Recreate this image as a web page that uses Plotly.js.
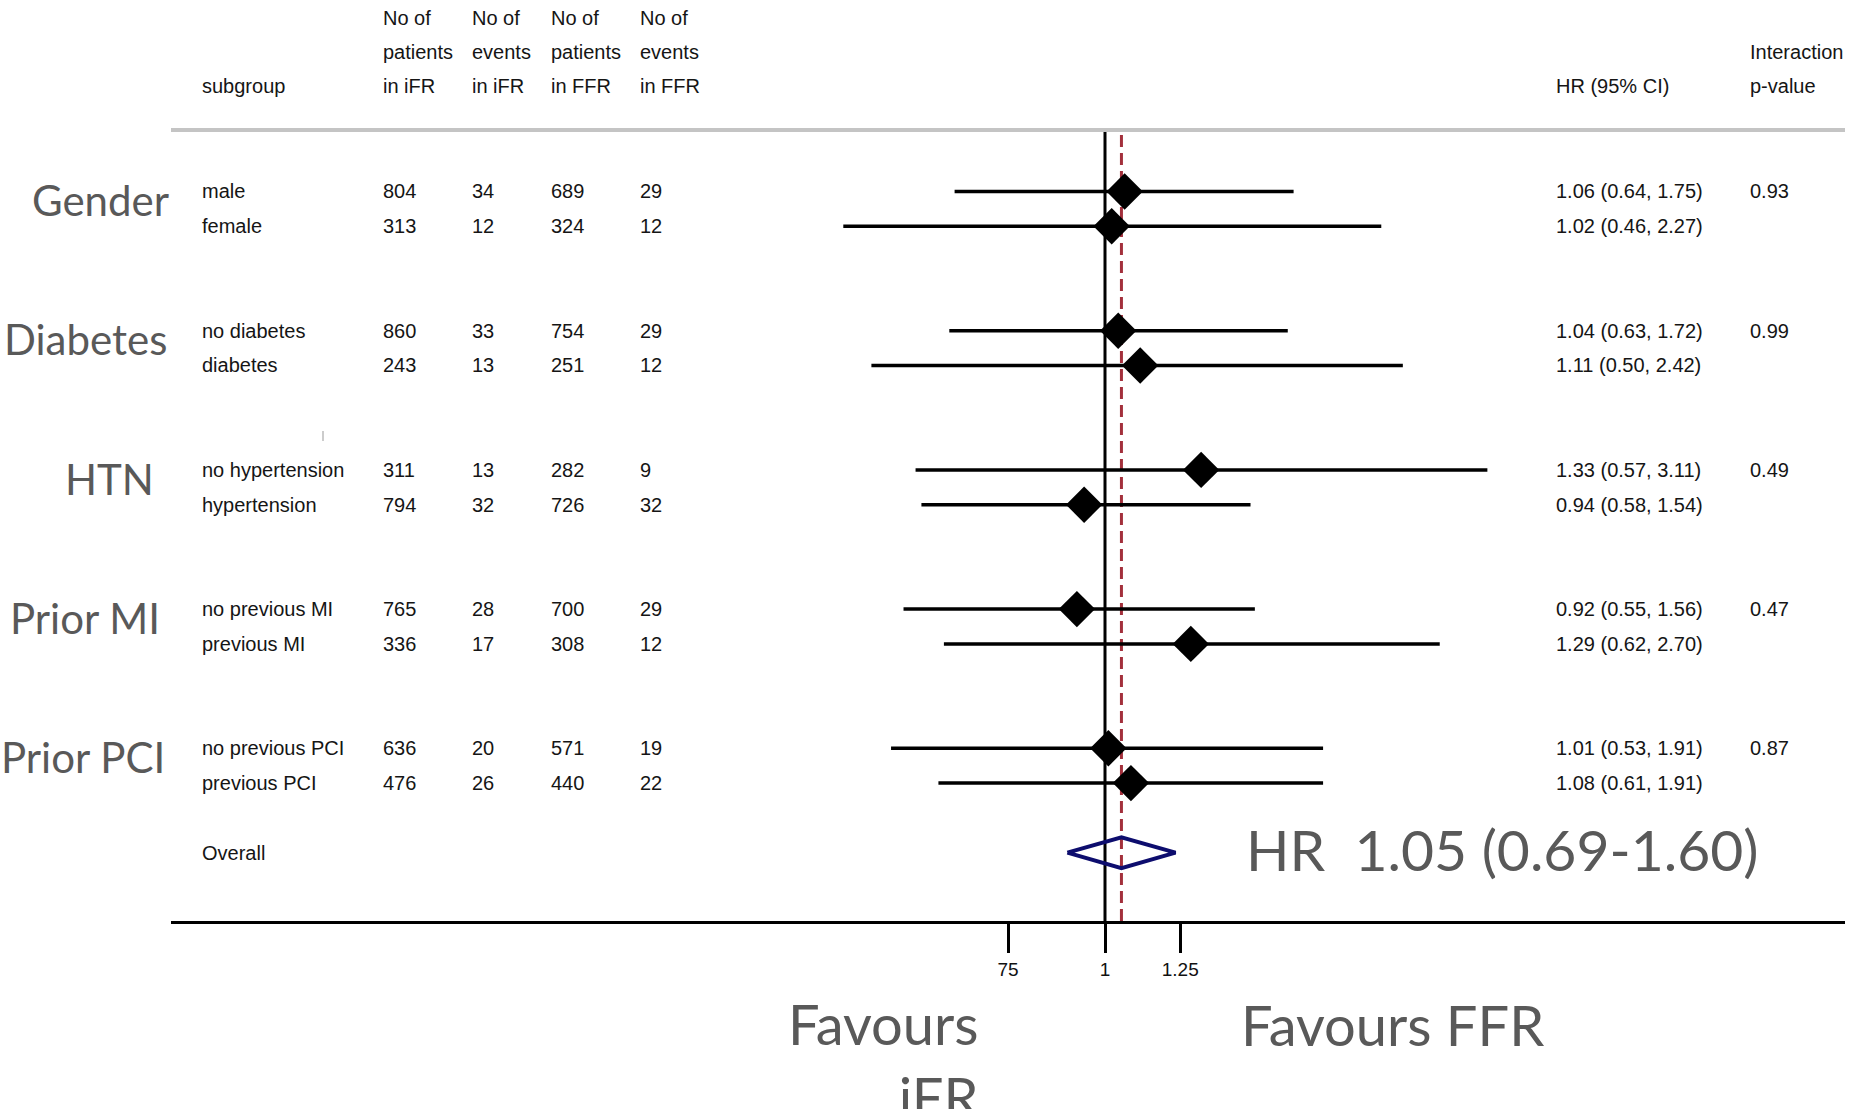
<!DOCTYPE html>
<html>
<head>
<meta charset="utf-8">
<script src="https://cdn.plot.ly/plotly-3.0.1.min.js"></script>
<style>html,body{margin:0;padding:0;background:#fff;}#chart{width:1854px;height:1109px;}</style>
</head>
<body>
<div id="chart"></div>
<script>
// ---------------- DATA ----------------
const groups = ['Gender', 'Diabetes', 'HTN', 'Prior MI', 'Prior PCI'];
const pInteraction = ['0.93', '0.99', '0.49', '0.47', '0.87'];
const subgroups = ['male', 'female', 'no diabetes', 'diabetes', 'no hypertension', 'hypertension',
                   'no previous MI', 'previous MI', 'no previous PCI', 'previous PCI'];
const patientsIFR = [804, 313, 860, 243, 311, 794, 765, 336, 636, 476];
const eventsIFR   = [34, 12, 33, 13, 13, 32, 28, 17, 20, 26];
const patientsFFR = [689, 324, 754, 251, 282, 726, 700, 308, 571, 440];
const eventsFFR   = [29, 12, 29, 12, 9, 32, 29, 12, 19, 22];
const hr    = [1.06, 1.02, 1.04, 1.11, 1.33, 0.94, 0.92, 1.29, 1.01, 1.08];
const ciLow = [0.64, 0.46, 0.63, 0.50, 0.57, 0.58, 0.55, 0.62, 0.53, 0.61];
const ciHigh= [1.75, 2.27, 1.72, 2.42, 3.11, 1.54, 1.56, 2.70, 1.91, 1.91];
const overallLabel = 'Overall';
const overallHR = [1.05];
const overallLow = [0.69];
const overallHigh = [1.60];
const nullValue = [1];
const tickVals = [0.75, 1, 1.25];
const tickText = ['75', '1', '1.25'];
const headerCols = [
  ['', '', 'subgroup'],
  ['No of', 'patients', 'in iFR'],
  ['No of', 'events', 'in iFR'],
  ['No of', 'patients', 'in FFR'],
  ['No of', 'events', 'in FFR'],
  ['', '', 'HR (95% CI)'],
  ['', 'Interaction', 'p-value']
];
const favoursLeft = 'Favours<br>iFR';
const favoursRight = 'Favours FFR';

// ---------------- LAYOUT CONSTANTS ----------------
const W = 1854, H = 1109;
const px = v => v / W;
const py = v => 1 - v / H;
const rowStep = 34.8, firstRowPx = 191.5;
const axisTopPx = 130, axisBottomPx = 921;
const refPx = 1105, pxPerDecade = 776;
const axLeftPx = 171, axRightPx = 1845;
const yRange = [(axisBottomPx - firstRowPx) / rowStep, (axisTopPx - firstRowPx) / rowStep];
const xRange = [(axLeftPx - refPx) / pxPerDecade, (axRightPx - refPx) / pxPerDecade];
const rowPos = [0, 1, 4, 5, 8, 9, 12, 13, 16, 17];
const groupRowPos = [0, 4, 8, 12, 16];
const overallRowPos = 19;
const colX = [200, 381, 470, 549, 638, 1554, 1748];
const headerY = [18, 52, 86];
const groupRightPx = [171, 169, 156, 162, 167];

const tableFont = {family: 'Liberation Sans, Arial, sans-serif', size: 20, color: '#151515'};
const bigFont = (s) => ({family: 'Lato, Open Sans, sans-serif', size: s, color: '#595959'});

// ---------------- TRACES ----------------
const traces = [];
traces.push({x: [nullValue[0], nullValue[0]], y: yRange, mode: 'lines', type: 'scatter',
  line: {color: '#000', width: 3}, hoverinfo: 'skip'});
traces.push({x: [overallHR[0], overallHR[0]], y: [yRange[0], yRange[1] - 0.08], mode: 'lines', type: 'scatter',
  line: {color: '#a3303c', width: 3, dash: '12px,6px'}, hoverinfo: 'skip'});
const ciX = [], ciY = [];
hr.forEach((v, i) => { ciX.push(ciLow[i], ciHigh[i], null); ciY.push(rowPos[i], rowPos[i], null); });
traces.push({x: ciX, y: ciY, mode: 'lines', type: 'scatter', line: {color: '#000', width: 3.5}, hoverinfo: 'skip'});
traces.push({x: hr, y: rowPos, mode: 'markers', type: 'scatter',
  marker: {symbol: 'diamond', size: 28, color: '#000', line: {width: 0}}, hoverinfo: 'x'});
const k = 1.174, hh = 0.445;
const o = overallHR[0];
traces.push({x: [o / k, o, o * k, o, o / k], y: [overallRowPos, overallRowPos - hh, overallRowPos, overallRowPos + hh, overallRowPos],
  mode: 'lines', type: 'scatter', line: {color: '#0d0d6e', width: 4}, hoverinfo: 'skip'});

// ---------------- ANNOTATIONS ----------------
const ann = [];
headerCols.forEach((lines, c) => {
  lines.forEach((t, r) => {
    if (!t) return;
    ann.push({xref: 'paper', yref: 'paper', x: px(colX[c]), y: py(headerY[r]), text: t,
      xanchor: 'left', yanchor: 'middle', showarrow: false, font: tableFont});
  });
});
subgroups.forEach((s, i) => {
  const y = rowPos[i];
  const vals = [s, String(patientsIFR[i]), String(eventsIFR[i]), String(patientsFFR[i]), String(eventsFFR[i]),
    hr[i].toFixed(2) + ' (' + ciLow[i].toFixed(2) + ', ' + ciHigh[i].toFixed(2) + ')'];
  vals.forEach((t, c) => {
    ann.push({xref: 'paper', yref: 'y', x: px(colX[c]), y: y, text: t, xanchor: 'left', yanchor: 'middle',
      showarrow: false, font: tableFont});
  });
});
groups.forEach((g, j) => {
  ann.push({xref: 'paper', yref: 'y', x: px(colX[6]), y: groupRowPos[j], text: pInteraction[j], xanchor: 'left',
    yanchor: 'middle', showarrow: false, font: tableFont});
  ann.push({xref: 'paper', yref: 'y', x: px(groupRightPx[j]), y: groupRowPos[j] + 0.25, text: g, xanchor: 'right',
    yanchor: 'middle', showarrow: false, font: bigFont(42)});
});
ann.push({xref: 'paper', yref: 'y', x: px(colX[0]), y: overallRowPos, text: overallLabel, xanchor: 'left',
  yanchor: 'middle', showarrow: false, font: tableFont});
ann.push({xref: 'paper', yref: 'y', x: px(1244), y: overallRowPos - 0.1,
  text: 'HR\u00a0 ' + overallHR[0].toFixed(2) + ' (' + overallLow[0].toFixed(2) + '-' + overallHigh[0].toFixed(2) + ')',
  xanchor: 'left', yanchor: 'middle', showarrow: false, font: bigFont(57)});
ann.push({xref: 'paper', yref: 'paper', x: px(981), y: py(1060), text: favoursLeft, xanchor: 'right', align: 'right',
  yanchor: 'middle', showarrow: false, font: bigFont(56)});
ann.push({xref: 'paper', yref: 'paper', x: px(1239), y: py(1024), text: favoursRight, xanchor: 'left',
  yanchor: 'middle', showarrow: false, font: bigFont(56)});

// ---------------- SHAPES ----------------
const shapes = [
  {type: 'line', xref: 'paper', yref: 'paper', x0: px(axLeftPx), x1: px(axRightPx), y0: py(axisTopPx), y1: py(axisTopPx),
    line: {color: '#c4c4c4', width: 4}},
  {type: 'line', xref: 'paper', yref: 'paper', x0: px(323), x1: px(323), y0: py(431), y1: py(441),
    line: {color: '#999', width: 1}}
];

const layout = {
  width: W, height: H, autosize: false,
  margin: {l: 0, r: 0, t: 0, b: 0, pad: 0},
  paper_bgcolor: '#fff', plot_bgcolor: '#fff',
  showlegend: false,
  xaxis: {type: 'log', domain: [px(axLeftPx), px(axRightPx)], range: xRange,
    showgrid: false, zeroline: false, showline: true, linecolor: '#000', linewidth: 3,
    ticks: 'outside', ticklen: 29, tickwidth: 3, tickcolor: '#000',
    tickmode: 'array', tickvals: tickVals, ticktext: tickText,
    tickfont: {family: 'Liberation Sans, Arial, sans-serif', size: 19, color: '#111'}, fixedrange: true},
  yaxis: {domain: [py(axisBottomPx), py(axisTopPx)], range: yRange, visible: false, showgrid: false, zeroline: false, fixedrange: true},
  annotations: ann,
  shapes: shapes
};

Plotly.newPlot('chart', traces, layout, {displayModeBar: false, staticPlot: true});
</script>
</body>
</html>
